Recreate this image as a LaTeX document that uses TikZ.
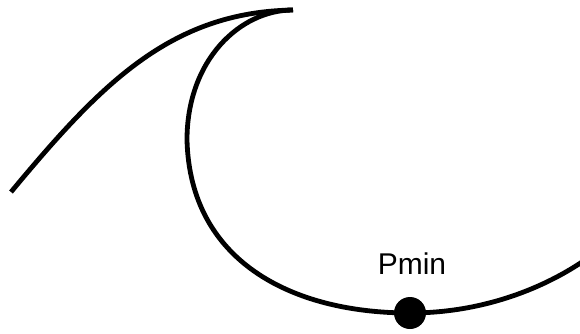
\documentclass[tikz,border=0pt]{standalone}
\usepackage{fontspec}
\setmainfont{Liberation Sans}
\usetikzlibrary{positioning}
\begin{document}
\begin{tikzpicture}[x=0.5pt, y=-0.5pt, line width=2.4pt]
  \useasboundingbox (0,0) rectangle (580,333);
\coordinate (tip) at (293,10);
\coordinate (left) at (187,140);
\coordinate (low) at (410,313);
\draw (11,192) .. controls (100,85) and (170,12) .. (tip);
\draw (tip) .. controls (240,10) and (187,60) .. (left)
  .. controls (190,260) and (290,313) .. (low)
  .. controls (480,313) and (540,290) .. (582,262);

\node[circle, fill, minimum size=16pt, inner sep=0pt] (pmin) at (low) {};
\node[font=\fontsize{15}{18}\selectfont] (lbl) at (412,264) {Pmin};

\end{tikzpicture}
\end{document}
